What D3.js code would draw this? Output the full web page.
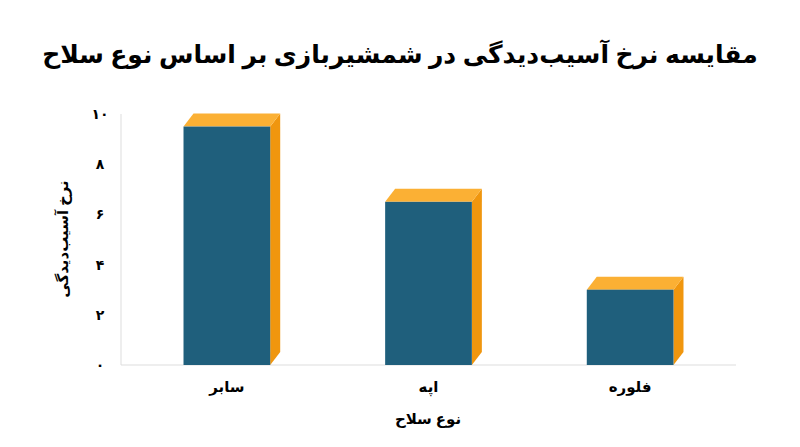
<!DOCTYPE html>
<html><head><meta charset="utf-8">
<script src="https://cdn.jsdelivr.net/npm/d3@7"></script>
<style>body{margin:0;background:#fff}text{font-family:"Noto Sans","DejaVu Sans",sans-serif}</style>
</head><body>
<svg id="chart" width="800" height="447"></svg>
<script>
// data
var weapons = ["سابر", "اپه", "فلوره"];
var injuryRates = [9.5, 6.5, 3.0];
var yTicks = [0, 2, 4, 6, 8, 10];

var svg = d3.select("#chart");
var margin = {top: 114, left: 121, right: 65, bottom: 82},
  width = 800 - margin.left - margin.right,
  height = 447 - margin.top - margin.bottom;
var g = svg.append("g").attr("transform", "translate(" + margin.left + "," + margin.top + ")");

var x = d3.scaleBand().domain(weapons).range([0, 615]).paddingInner(0.57).paddingOuter(0.31);
var y = d3.scaleLinear().domain([0, 10]).range([height, 0]);
var fa = d3.format("d");
var toFa = function(n){ return String(n).replace(/\d/g, function(c){ return "۰۱۲۳۴۵۶۷۸۹"[c]; }); };

// axes lines
g.append("line").attr("x1", 0).attr("x2", 0).attr("y1", 0).attr("y2", height).attr("stroke", "#ddd");
g.append("line").attr("x1", 0).attr("x2", 615).attr("y1", height).attr("y2", height).attr("stroke", "#ddd");

g.selectAll(".yt").data(yTicks).enter().append("text")
  .attr("x", -21).attr("y", function(d){ return y(d); }).attr("dy", "0.35em")
  .attr("text-anchor", "middle").attr("font-size", 14).attr("font-weight", "bold")
  .text(function(d){ return toFa(d); });

var dx = 10, dy = 13;
var bars = g.selectAll(".bar").data(weapons).enter().append("g");
// side
bars.append("path").attr("fill", "#f0960e").attr("d", function(d, i){
  var x1 = x(d) + x.bandwidth(), y0 = y(injuryRates[i]);
  return "M" + x1 + "," + y0 + "L" + (x1+dx) + "," + (y0-dy) + "L" + (x1+dx) + "," + (height-dy) + "L" + x1 + "," + height + "Z";
});
// top
bars.append("path").attr("fill", "#fbb034").attr("d", function(d, i){
  var x0 = x(d), x1 = x0 + x.bandwidth(), y0 = y(injuryRates[i]);
  return "M" + x0 + "," + y0 + "L" + (x0+dx) + "," + (y0-dy) + "L" + (x1+dx) + "," + (y0-dy) + "L" + x1 + "," + y0 + "Z";
});
// front
bars.append("rect").attr("fill", "#1f5f7c")
  .attr("x", function(d){ return x(d); })
  .attr("y", function(d, i){ return y(injuryRates[i]); })
  .attr("width", x.bandwidth())
  .attr("height", function(d, i){ return height - y(injuryRates[i]); });

g.selectAll(".xt").data(weapons).enter().append("text")
  .attr("x", function(d){ return x(d) + x.bandwidth()/2; }).attr("y", height + 27)
  .attr("text-anchor", "middle").attr("font-size", 15).attr("font-weight", "bold")
  .text(function(d){ return d; });

svg.append("text").attr("x", 400).attr("y", 63).attr("text-anchor", "middle")
  .attr("font-size", 25).attr("font-weight", "bold").attr("direction", "rtl")
  .text("مقایسه نرخ آسیب‌دیدگی در شمشیربازی بر اساس نوع سلاح");
svg.append("text").attr("x", 428).attr("y", 424).attr("text-anchor", "middle")
  .attr("font-size", 15).attr("font-weight", "bold").attr("direction", "rtl").text("نوع سلاح");
svg.append("text").attr("transform", "translate(68,239) rotate(-90)").attr("text-anchor", "middle")
  .attr("font-size", 15).attr("font-weight", "bold").attr("direction", "rtl").text("نرخ آسیب‌دیدگی");
</script>
</body></html>
